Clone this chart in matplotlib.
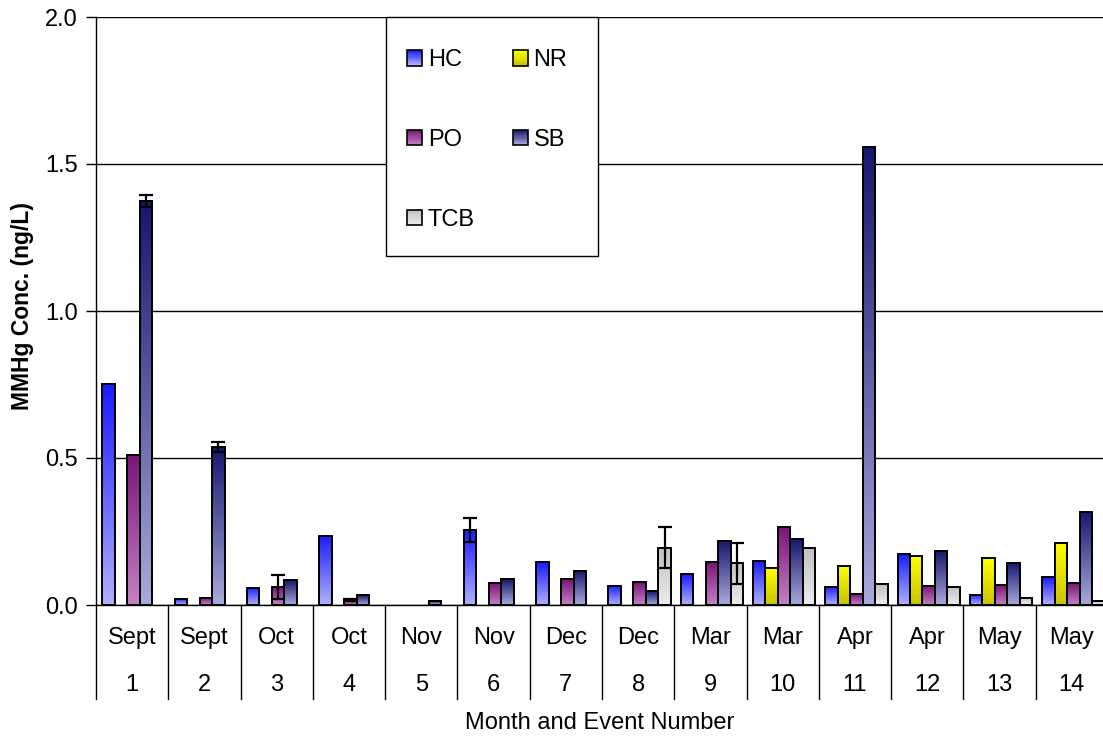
import numpy as np
import matplotlib
matplotlib.use("Agg")
import matplotlib.pyplot as plt
import matplotlib.transforms as mtransforms
from matplotlib.colors import LinearSegmentedColormap
from matplotlib.patches import Rectangle, Patch
from matplotlib.legend_handler import HandlerBase

plt.rcParams['font.family'] = ['Liberation Sans', 'DejaVu Sans']

nan = np.nan

# ---------------- Data ----------------
months = ["Sept", "Sept", "Oct", "Oct", "Nov", "Nov", "Dec", "Dec",
          "Mar", "Mar", "Apr", "Apr", "May", "May"]
events = [str(i) for i in range(1, 15)]

series_names = ["HC", "NR", "PO", "SB", "TCB"]
hc = [0.751, 0.021, 0.058, 0.236, nan, 0.255, 0.145, 0.065, 0.104, 0.151, 0.062, 0.175, 0.035, 0.095]
nr = [nan, nan, nan, nan, nan, nan, nan, nan, nan, 0.127, 0.134, 0.168, 0.159, 0.211]
po = [0.509, 0.025, 0.061, 0.017, nan, 0.074, 0.088, 0.077, 0.146, 0.264, 0.036, 0.063, 0.068, 0.074]
sb = [1.374, 0.539, 0.084, 0.034, 0.015, 0.088, 0.116, 0.046, 0.218, 0.224, 1.558, 0.185, 0.144, 0.318]
tcb = [nan, nan, nan, nan, nan, nan, nan, 0.195, 0.142, 0.194, 0.073, 0.062, 0.024, 0.012]

# error bars (half-width), nan = none
hc_err = [nan, nan, nan, nan, nan, 0.040, nan, nan, nan, nan, nan, nan, nan, nan]
po_err = [nan, nan, 0.041, 0.005, nan, nan, nan, nan, nan, nan, nan, nan, nan, nan]
sb_err = [0.020, 0.017, nan, nan, nan, nan, nan, nan, nan, nan, nan, nan, nan, nan]
tcb_err = [nan, nan, nan, nan, nan, nan, nan, 0.070, 0.070, nan, nan, nan, nan, nan]
nr_err = [nan] * 14

values = [hc, nr, po, sb, tcb]
errors = [hc_err, nr_err, po_err, sb_err, tcb_err]

# gradient colours (bottom, top)
grad_colors = [("#b0b0ff", "#1a1aff"),
               ("#c8c400", "#ffff00"),
               ("#c482c4", "#7a1478"),
               ("#aaaadc", "#16166e"),
               ("#ececec", "#c0c0c0")]
cmaps = [LinearSegmentedColormap.from_list(n, c) for n, c in zip(series_names, grad_colors)]

FS = 17

fig = plt.figure(figsize=(11.03, 7.38), dpi=100)
W, H = 1103, 738
ax = fig.add_axes([96 / W, 1 - 605 / H, (1108 - 96) / W, 588 / H])

n_cat = len(months)
bw = 1 / 5.8
offset = 0.5 - 2.5 * bw + 0.02
x = np.arange(n_cat)
grad = np.linspace(0, 1, 256).reshape(-1, 1)

for j, (vals, errs, cm) in enumerate(zip(values, errors, cmaps)):
    xs = x + offset + (j + 0.5) * bw
    v = np.array(vals, dtype=float)
    ok = ~np.isnan(v)
    bars = ax.bar(xs[ok], v[ok], width=bw, facecolor="none", edgecolor="black",
                  linewidth=1.4, zorder=3)
    for b in bars:
        bx, by = b.get_x(), b.get_y()
        h = b.get_height()
        im = ax.imshow(grad, extent=[bx, bx + bw, by, by + h], origin="lower",
                       aspect="auto", cmap=cm, zorder=2, interpolation="bilinear")
        im.set_clip_path(b)
    e = np.array(errs, dtype=float)
    has = ~np.isnan(e)
    if has.any():
        ax.errorbar(xs[has], v[has], yerr=e[has], fmt="none", ecolor="black",
                    elinewidth=1.6, capsize=5, capthick=1.6, zorder=4)

ax.set_xlim(0, n_cat)
ax.set_ylim(0, 2.0)
ax.set_yticks([0, 0.5, 1.0, 1.5, 2.0])
ax.set_yticklabels(["0.0", "0.5", "1.0", "1.5", "2.0"], fontsize=FS)
ax.tick_params(axis="y", direction="out", length=7, width=1, pad=6, colors="black")
ax.set_xticks([])
ax.yaxis.grid(True, color="black", linewidth=1)
ax.set_axisbelow(True)
for s in ["top", "right"]:
    ax.spines[s].set_visible(False)
ax.spines["left"].set_linewidth(1)
ax.spines["bottom"].set_linewidth(1)

# two-level category axis
trans = mtransforms.blended_transform_factory(ax.transData, ax.transAxes)
y_sep = -(699 - 605) / 588
for b in range(n_cat + 1):
    ax.plot([b, b], [0, y_sep], transform=trans, color="black", lw=1, clip_on=False)
for i in range(n_cat):
    ax.text(i + 0.5, -(638 - 605) / 588, months[i], transform=trans,
            ha="center", va="center", fontsize=FS)
    ax.text(i + 0.5, -(685 - 605) / 588, events[i], transform=trans,
            ha="center", va="center", fontsize=FS)

fig.text(600 / W, 1 - 723 / H, "Month and Event Number", ha="center", va="center", fontsize=FS)
fig.text(23 / W, 1 - 306 / H, "MMHg Conc. (ng/L)", ha="center", va="center",
         rotation=90, fontsize=16.5, fontweight="bold")


# legend with gradient squares
class GradientHandler(HandlerBase):
    def __init__(self, cmap):
        super().__init__()
        self.cmap = cmap

    def create_artists(self, legend, orig_handle, xdescent, ydescent, width, height, fontsize, trans):
        n = 14
        arts = []
        for i in range(n):
            arts.append(Rectangle((-xdescent, -ydescent + i * height / n), width, height / n,
                                  facecolor=self.cmap(i / (n - 1)), edgecolor="none", transform=trans))
        arts.append(Rectangle((-xdescent, -ydescent), width, height, fill=False,
                              edgecolor="black", lw=1.2, transform=trans))
        return arts


handles = [Patch(label=n) for n in series_names]
hmap = {h: GradientHandler(c) for h, c in zip(handles, cmaps)}
order = [0, 2, 4, 1, 3]

fig.add_artist(Rectangle((386 / W, 1 - 256 / H), 212 / W, 239 / H, transform=fig.transFigure,
                         facecolor="white", edgecolor="black", lw=1, zorder=4))
fig.legend([handles[i] for i in order], [series_names[i] for i in order],
           handler_map=hmap, loc="upper left", bbox_to_anchor=(407 / W, 1 - 49 / H),
           bbox_transform=fig.transFigure, ncol=2, frameon=False, fontsize=FS,
           borderpad=0, borderaxespad=0, handlelength=0.64, handleheight=0.64,
           handletextpad=0.24, columnspacing=1.61, labelspacing=2.45).set_zorder(5)

fig.savefig("out.png", dpi=100)
